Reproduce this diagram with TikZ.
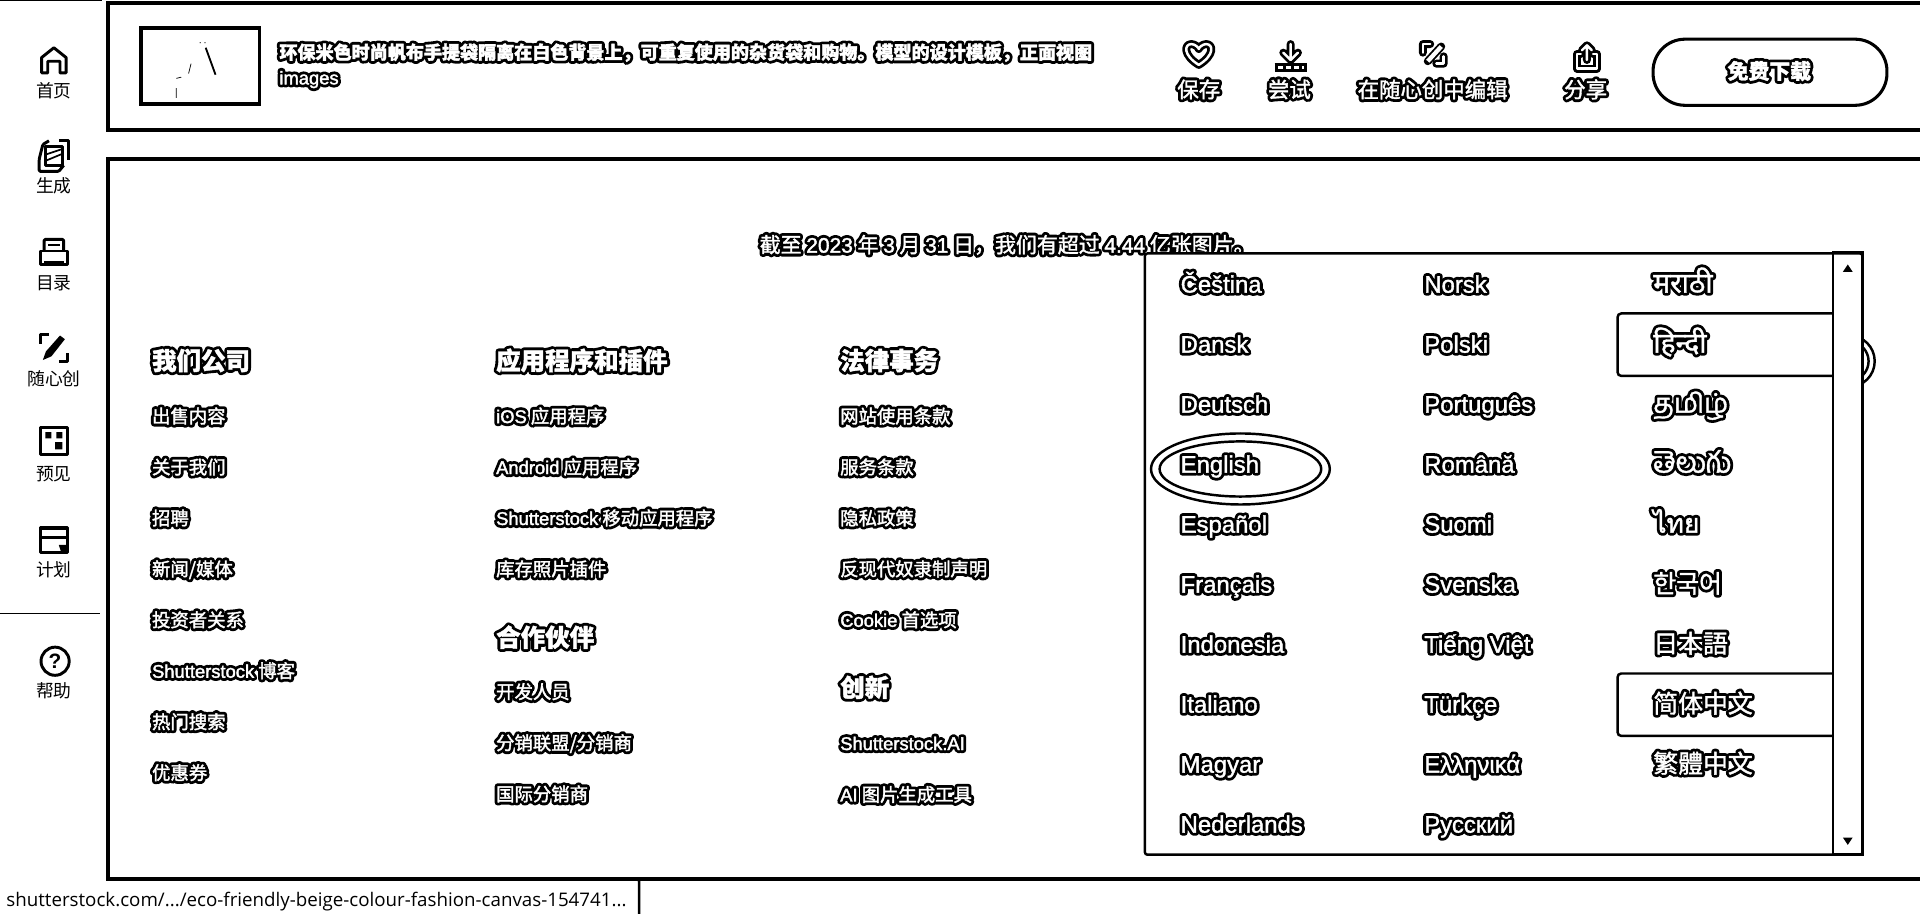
\documentclass[tikz,border=0pt]{standalone}
\usepackage{fontspec}
\setmainfont{Liberation Sans}
\newfontfamily\cjk{Noto Sans CJK SC}
\newfontfamily\cjktc{Noto Sans CJK TC}
\newfontfamily\cjkjp{Noto Sans CJK JP}
\newfontfamily\cjkkr{Noto Sans CJK KR}
\newfontfamily\hindifont[Script=Devanagari]{Noto Sans}
\newfontfamily\tamilfont[Script=Tamil]{Hind Madurai}
\newfontfamily\telugufont[Script=Telugu]{Hind Guntur}
\newfontfamily\thaifont[Script=Thai]{Loma}
\newfontfamily\urlfont{Open Sans}
\newcommand{\halo}[1]{\leavevmode\rlap{\special{pdf:code q 1 Tr 5 w 0 G 1 j 1 J}#1\special{pdf:code Q}}\special{pdf:code q 2 Tr .3 w 1 G}#1\special{pdf:code Q}}
\newcommand{\la}[1]{{\rmfamily #1}}
\tikzset{
    side/.style={font=\cjk\fontsize{14.5}{16}\selectfont,inner sep=0pt},
    item/.style={font=\cjk\fontsize{15}{16}\selectfont,text=white,inner sep=0pt,anchor=base west},
    head/.style={font=\cjk\bfseries\fontsize{20}{22}\selectfont,text=white,inner sep=0pt,anchor=base west},
    lang/.style={font=\rmfamily\fontsize{19.5}{22}\selectfont,text=white,inner sep=0pt,anchor=base west},
    tool/.style={font=\cjk\fontsize{17.5}{18}\selectfont,text=white,inner sep=0pt},
    ico/.style={line width=2.4pt,line join=round},
    icob/.style={line width=6.5pt,line join=round,line cap=round},
    icow/.style={line width=2pt,line join=round,line cap=round,white},
}
\begin{document}
\begin{tikzpicture}[x=1pt,y=-1pt]
    \useasboundingbox (0,0) rectangle (1568,746.4);
    \draw[line width=2pt] (0,0) -- (83,0);
    \draw[line width=1pt] (0,501) -- (82,501);
    \draw[line width=3.5pt] (1568,2.5) -- (88,2.5) -- (88,106) -- (1568,106);
    \draw[line width=3.5pt] (1568,130) -- (88,130) -- (88,718) -- (1568,718);
    \draw[line width=2pt,rounded corners=2pt] (500,718) -- (522,718) -- (522,746.4);
    \node[anchor=base west,inner sep=0pt,font=\urlfont\fontsize{15.3}{16}\selectfont] (url) at (5,740) {shutterstock.com/.../eco-friendly-beige-colour-fashion-canvas-154741...};

    \draw[line width=3pt] (115,23) rectangle (212,85);
    \draw[line width=1.5pt] (168,39) -- (176,61);
    \draw[line width=.6pt] (156,52) -- (154,60) (144,64) -- (148,63) (144,72) -- (144,80) (163,35) -- (164,35) (167,35) -- (168,35);

    \foreach \cy/\t in {74/首页,152/生成,231/目录,309/随心创,387/预见,465/计划,564/帮助}
        \node[side] (side\cy) at (44,\cy) {\t};
    \begin{scope}[shift={(44,50)}]
        \draw[ico] (-10,9.5) -- (-10,-3) -- (0,-11) -- (10,-3) -- (10,9.5) -- (5,9.5) -- (5,0) -- (-5,0) -- (-5,9.5) -- cycle;
    \end{scope}
    \begin{scope}[shift={(44,127)}]
        \draw[ico,rounded corners=1pt] (-4,-12) -- (-9,-9) -- (-12,3) -- (-12,13) -- (4,13) -- (8,8);
        \draw[ico] (4,-12.5) -- (12,-12.5) -- (12,4);
        \draw[ico] (-7,-7) -- (7,-7) -- (7,8) -- (-7,8) -- cycle;
        \draw[line width=1.4pt] (-6,-1) -- (6,-5) (-6,4) -- (6,-1);
    \end{scope}
    \begin{scope}[shift={(44,206)}]
        \draw[ico,rounded corners=1pt] (-8,-1) -- (-8,-10.5) -- (8,-10.5) -- (8,-1);
        \draw[ico] (-11,-1) -- (11,-1) -- (11,10) -- (-11,10) -- cycle;
        \draw[line width=1.8pt] (-5,-6) -- (5,-6);
        \draw[line width=3pt] (-8,9) -- (8,9);
    \end{scope}
    \begin{scope}[shift={(44,284)}]
        \draw[ico] (-4,-11) -- (-11,-11) -- (-11,-3) (4,11) -- (11,11) -- (11,4);
        \fill (-9,10) -- (-6.5,3) -- (5,-10) -- (9,-7) -- (-2,7) -- cycle;
    \end{scope}
    \begin{scope}[shift={(44,360)}]
        \draw[ico] (-11,-11) rectangle (11,11);
        \fill (-7,-7) rectangle (-2,-2) (2,-7) rectangle (7,-2) (1,1) rectangle (7,7);
    \end{scope}
    \begin{scope}[shift={(44,440)}]
        \draw[ico] (-11,-9) -- (11,-9) -- (11,11) -- (-11,11) -- cycle;
        \draw[line width=3.5pt] (-11,-9) -- (11,-9);
        \draw[ico] (-11,-1) -- (11,-1);
        \fill (4,5) -- (11,5) -- (11,11) -- (6,11) -- cycle;
    \end{scope}
    \begin{scope}[shift={(45,540)}]
        \draw[ico] (0,0) circle (11.5);
        \node[inner sep=0pt,font=\rmfamily\bfseries\fontsize{17}{18}\selectfont] (helpmark) at (0,0) {?};
    \end{scope}

    \node[anchor=west,inner sep=0pt,font=\cjk\bfseries\fontsize{14.75}{18}\selectfont,text=white] (title1) at (228,43) {\halo{环保米色时尚帆布手提袋隔离在白色背景上，可重复使用的杂货袋和购物。模型的设计模板，正面视图}};
    \node[anchor=west,inner sep=0pt,font=\rmfamily\fontsize{15}{18}\selectfont,text=white] (title2) at (228,65) {\halo{images}};

    \foreach \cx/\t in {979/保存,1053/尝试,1170/在随心创中编辑,1295/分享}
        \node[tool] (tool\cx) at (\cx,73) {\halo{\t}};

    \def\heartpath{(979,53) .. controls (966,45) and (967,36) .. (973,36) .. controls (976,36) and (979,39) .. (979,40) .. controls (979,39) and (982,36) .. (985,36) .. controls (991,36) and (992,45) .. (979,53) -- cycle}
    \draw[icob,fill=white] \heartpath;
    \draw[icow] \heartpath;

    \draw[icob] (1054,36) -- (1054,46) (1048,43) -- (1054,49) -- (1060,43);
    \draw[line width=7pt] (1041,55) -- (1067,55);
    \draw[icow] (1054,36) -- (1054,48) (1048,43) -- (1054,49) -- (1060,43);
    \draw[line width=2pt,white,dash pattern=on 4pt off 2.5pt] (1044,55) -- (1065,55);

    \draw[icob] (1168,36) -- (1162,36) -- (1162,43) (1173,52) -- (1179,52) -- (1179,46) (1166,50) -- (1177,38);
    \draw[icow] (1168,36) -- (1162,36) -- (1162,43) (1173,52) -- (1179,52) -- (1179,46);
    \draw[line width=3.5pt,white] (1166,50) -- (1177,38);

    \draw[icob] (1296,37) -- (1296,49) (1292,41) -- (1296,37) -- (1300,41);
    \draw[icob] (1291,44) -- (1288,44) -- (1288,56) -- (1304,56) -- (1304,44) -- (1301,44);
    \draw[icow] (1296,37) -- (1296,49) (1292,41) -- (1296,37) -- (1300,41);
    \draw[icow] (1291,44) -- (1288,44) -- (1288,56) -- (1304,56) -- (1304,44) -- (1301,44);

    \draw[line width=2.5pt,rounded corners=26pt] (1350,32) rectangle (1541,86);
    \node[tool,font=\cjk\bfseries\fontsize{17}{18}\selectfont] (download) at (1445,58) {\halo{免费下载}};

    \node[anchor=center,inner sep=0pt,font=\cjk\fontsize{17.1}{18}\selectfont,text=white] (stat) at (822.5,200) {\halo{截至 \la{2023} 年 \la{3} 月 \la{31} 日，我们有超过 \la{4.44} 亿张图片。}};

    \node[head] (companyhead) at (124,302) {\halo{我们公司}};
    \foreach \t [count=\i from 0] in {出售内容,关于我们,招聘,新闻/媒体,投资者关系,\la{Shutterstock} 博客,热门搜索,优惠券}
        \node[item] (company\i) at (124,{345.5+41.6*\i}) {\halo{\t}};

    \node[head] (appshead) at (405,302) {\halo{应用程序和插件}};
    \foreach \t [count=\i from 0] in {\la{iOS} 应用程序,\la{Android} 应用程序,\la{Shutterstock} 移动应用程序,库存照片插件}
        \node[item] (apps\i) at (405,{345.5+41.6*\i}) {\halo{\t}};
    \node[head] (partnerhead) at (405,528) {\halo{合作伙伴}};
    \foreach \t [count=\i from 0] in {开发人员,分销联盟/分销商,国际分销商}
        \node[item] (partner\i) at (405,{570.5+41.8*\i}) {\halo{\t}};

    \node[head] (legalhead) at (686,302) {\halo{法律事务}};
    \foreach \t [count=\i from 0] in {网站使用条款,服务条款,隐私政策,反现代奴隶制声明,\la{Cookie} 首选项}
        \node[item] (legal\i) at (686,{345.5+41.6*\i}) {\halo{\t}};
    \node[head] (newhead) at (686,569) {\halo{创新}};
    \node[item] (new0) at (686,612.5) {\halo{\la{Shutterstock.AI}}};
    \node[item] (new1) at (686,654.5) {\halo{\la{AI} 图片生成工具}};

    \draw[line width=2pt] (1510,295) circle (21);
    \draw[line width=2pt] (1510,295) circle (16);

    \draw[line width=2pt,fill=white,rounded corners=2pt] (935,207) -- (1521,207) -- (1521,698) -- (935,698) -- cycle;
    \draw[line width=2pt] (1497,206) rectangle (1521,698);
    \fill (1505,222) -- (1509,216) -- (1513,222) -- cycle;
    \fill (1505,684) -- (1509,690) -- (1513,684) -- cycle;
    \draw[line width=2pt,rounded corners=3pt] (1497,256) -- (1321,256) -- (1321,307) -- (1497,307);
    \draw[line width=2pt,rounded corners=3pt] (1497,550) -- (1321,550) -- (1321,601) -- (1497,601);

    \foreach \t [count=\i from 0] in {Čeština,Dansk,Deutsch,English,Español,Français,Indonesia,Italiano,Magyar,Nederlands}
        \node[lang] (langa\i) at (964,{239+49*\i}) {\halo{\t}};
    \foreach \t [count=\i from 0] in {Norsk,Polski,Português,Română,Suomi,Svenska,Tiếng Việt,Türkçe,Ελληνικά,Русский}
        \node[lang] (langb\i) at (1163,{239+49*\i}) {\halo{\t}};
    \foreach \t/\fs [count=\i from 0] in {{\hindifont मराठी}/23,{\hindifont हिन्दी}/23,{\tamilfont தமிழ்}/22,{\telugufont తెలుగు}/24,{\thaifont ไทย}/21.5,{\cjkkr 한국어}/20.3,{\cjkjp 日本語}/20.3,{\cjk 简体中文}/20.3,{\cjktc 繁體中文}/20.3}
        \node[lang,font=\fontsize{\fs}{24}\selectfont] (langc\i) at (1350,{239+49*\i}) {\halo{\t}};

    \draw[line width=2pt] (1013,383) ellipse (73 and 29);
    \draw[line width=2pt] (1013,383) ellipse (66 and 22.5);
\end{tikzpicture}
\end{document}
